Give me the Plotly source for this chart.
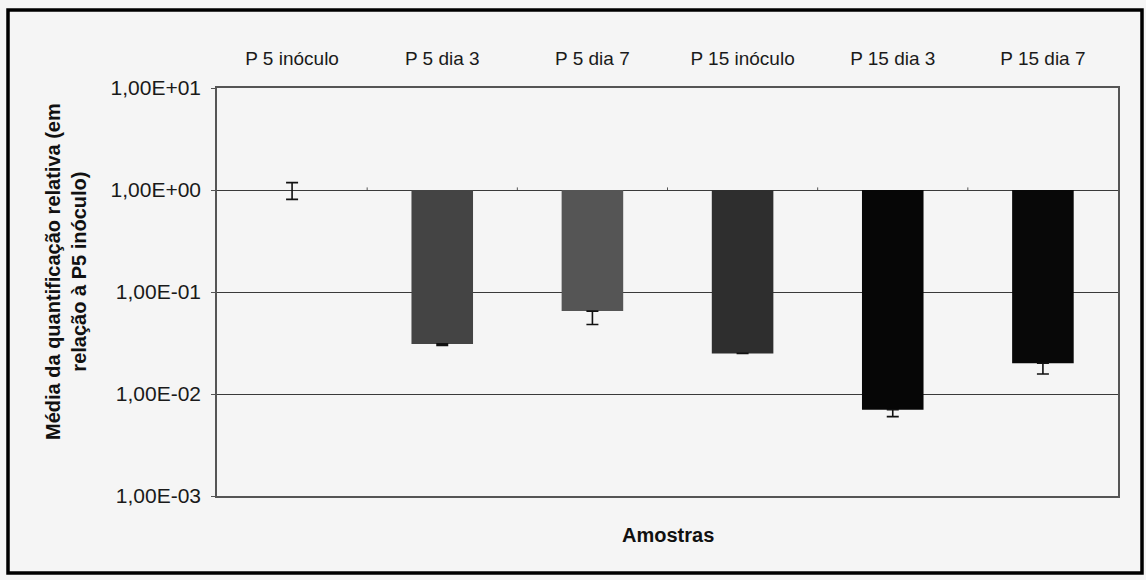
import plotly.graph_objects as go

categories = ["P 5 inóculo", "P 5 dia 3", "P 5 dia 7", "P 15 inóculo", "P 15 dia 3", "P 15 dia 7"]
values = [1.0, 0.031, 0.065, 0.025, 0.0070, 0.020]
err_plus = [0.18, 0, 0, 0, 0, 0]
err_minus = [0.19, 0.001, 0.017, 0, 0.001, 0.0043]
bar_colors = ["#3a3a3a", "#444444", "#555555", "#2e2e2e", "#060606", "#080808"]
ytick_vals = [1e-3, 1e-2, 1e-1, 1e0, 1e1]
ytick_text = ["1,00E-03", "1,00E-02", "1,00E-01", "1,00E+00", "1,00E+01"]
base_value = 1.0

FONT = "Liberation Sans, Arial, sans-serif"

fig = go.Figure()
fig.add_trace(go.Bar(
    x=categories,
    y=[v - base_value for v in values],
    base=[base_value] * len(values),
    width=0.41,
    marker=dict(color=bar_colors, line=dict(width=0)),
    error_y=dict(type="data", symmetric=False, array=err_plus, arrayminus=err_minus,
                 color="#111111", thickness=1.6, width=6),
    showlegend=False,
    hoverinfo="skip",
))

# small category tick marks on the crossing axis at y=1
for i in range(1, len(categories)):
    fig.add_shape(type="line", xref="x", yref="y", x0=i - 0.5, x1=i - 0.5,
                  y0=base_value, y1=base_value * 1.06,
                  line=dict(color="#555555", width=1), layer="below")

pl, pr, pt, pb = 217, 28, 88, 84
W, H = 1146, 580
pw, ph = W - pl - pr, H - pt - pb

def px_to_paper_x(px):
    return (px - pl) / pw

def px_to_paper_y(py):
    return (H - pb - py) / ph

# outer frame
fig.add_shape(type="rect", xref="paper", yref="paper",
              x0=px_to_paper_x(8), x1=px_to_paper_x(1142),
              y0=px_to_paper_y(573), y1=px_to_paper_y(10),
              line=dict(color="#000000", width=3.5), fillcolor="rgba(0,0,0,0)", layer="above")

fig.add_annotation(text="<b>Amostras</b>", xref="paper", yref="paper",
                   x=0.5, y=px_to_paper_y(535), xanchor="center", yanchor="middle",
                   showarrow=False,
                   font=dict(family=FONT, size=20, color="#111111"))

fig.add_annotation(text="<b>Média da quantificação relativa (em<br>relação à P5 inóculo)</b>",
                   xref="paper", yref="paper", textangle=-90,
                   x=px_to_paper_x(66), y=px_to_paper_y(272),
                   xanchor="center", yanchor="middle", showarrow=False,
                   font=dict(family=FONT, size=20, color="#111111"))

fig.update_layout(
    width=W, height=H,
    margin=dict(l=pl, r=pr, t=pt, b=pb),
    paper_bgcolor="#f5f5f5",
    plot_bgcolor="#f5f5f5",
    font=dict(family=FONT, size=20, color="#1a1a1a"),
    bargap=0.59,
    xaxis=dict(
        side="top", type="category",
        showgrid=False, zeroline=False,
        showline=True, linecolor="#555555", linewidth=1.5, mirror=True,
        ticks="", ticklabelstandoff=14,
        tickfont=dict(family=FONT, size=19, color="#1a1a1a"),
        range=[-0.5, len(categories) - 0.5],
    ),
    yaxis=dict(
        type="log", range=[-3, 1],
        tickvals=ytick_vals, ticktext=ytick_text,
        showgrid=True, gridcolor="#3a3a3a", gridwidth=1.2,
        zeroline=False,
        showline=True, linecolor="#555555", linewidth=1.5, mirror=True,
        ticks="outside", ticklen=4, tickcolor="#555555", ticklabelstandoff=6,
        tickfont=dict(family=FONT, size=21, color="#1a1a1a"),
    ),
)

fig.write_html("out.html")
